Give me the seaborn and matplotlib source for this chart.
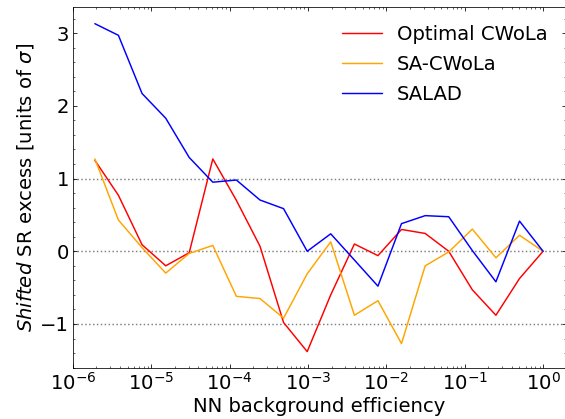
import numpy as np
import pandas as pd
import matplotlib
matplotlib.use('Agg')
import matplotlib.pyplot as plt
import seaborn as sns

# background efficiency points (halving steps down from 1)
bkg_eff = [1.91e-6, 3.81e-6, 7.63e-6, 1.53e-5, 3.05e-5, 6.10e-5, 1.22e-4, 2.44e-4,
           4.88e-4, 9.77e-4, 1.95e-3, 3.91e-3, 7.81e-3, 1.56e-2, 3.13e-2, 6.25e-2,
           0.125, 0.25, 0.5, 1.0]

optimal_cwola = [1.25, 0.77, 0.09, -0.20, -0.02, 1.27, 0.70, 0.07, -0.98, -1.38,
                 -0.60, 0.10, -0.06, 0.30, 0.245, 0.0, -0.53, -0.88, -0.375, 0.0]
sa_cwola = [1.27, 0.43, 0.05, -0.30, -0.03, 0.08, -0.62, -0.65, -0.92, -0.31,
            0.13, -0.88, -0.68, -1.27, -0.20, -0.01, 0.305, -0.09, 0.22, 0.0]
salad = [3.13, 2.97, 2.17, 1.83, 1.29, 0.95, 0.98, 0.705, 0.586, 0.0,
         0.24, -0.12, -0.48, 0.38, 0.49, 0.475, 0.01, -0.42, 0.415, 0.0]

xtick_vals = [1e-6, 1e-5, 1e-4, 1e-3, 1e-2, 1e-1, 1e0]

series = {'Optimal CWoLa': (optimal_cwola, 'red'),
          'SA-CWoLa': (sa_cwola, 'orange'),
          'SALAD': (salad, 'blue')}

sns.set_style("ticks")
plt.rcParams['font.size'] = 20
plt.rcParams['mathtext.fontset'] = 'dejavusans'
for key in ['text.color', 'axes.labelcolor', 'xtick.color', 'ytick.color', 'axes.edgecolor']:
    plt.rcParams[key] = 'black'

dpi = 70.625
fig = plt.figure(figsize=(565 / dpi, 419 / dpi), dpi=dpi)
ax = fig.add_axes([72.5 / 565, 51 / 419, 493 / 565, 360.7 / 419])

for name, (vals, col) in series.items():
    df = pd.DataFrame({'eff': bkg_eff, 'excess': vals})
    sns.lineplot(data=df, x='eff', y='excess', color=col, label=name,
                 linewidth=1.5, ax=ax)

for yv in [-1, 0, 1]:
    ax.axhline(yv, color='gray', linestyle=':', linewidth=1.5, zorder=0)

ax.set_xscale('log')
xl = ax.get_xlim()
ax.set_xticks(xtick_vals)
ax.set_xlim(xl)
ax.set_xlabel('NN background efficiency', fontsize=20)
ax.set_ylabel(r'$\it{Shifted}$ SR excess [units of $\sigma$]', fontsize=20)
ax.yaxis.set_minor_locator(matplotlib.ticker.MultipleLocator(0.2))
ax.xaxis.set_minor_locator(matplotlib.ticker.LogLocator(base=10, subs=np.arange(2, 10), numticks=10))
ax.xaxis.set_minor_formatter(matplotlib.ticker.NullFormatter())
ax.tick_params(which='both', direction='in', top=True, right=True, labelsize=20)
ax.tick_params(which='major', length=4)
ax.tick_params(which='minor', length=2)

ax.legend(loc='upper right', frameon=False, fontsize=20, labelspacing=0.55)

fig.savefig('out.png', dpi=dpi)
